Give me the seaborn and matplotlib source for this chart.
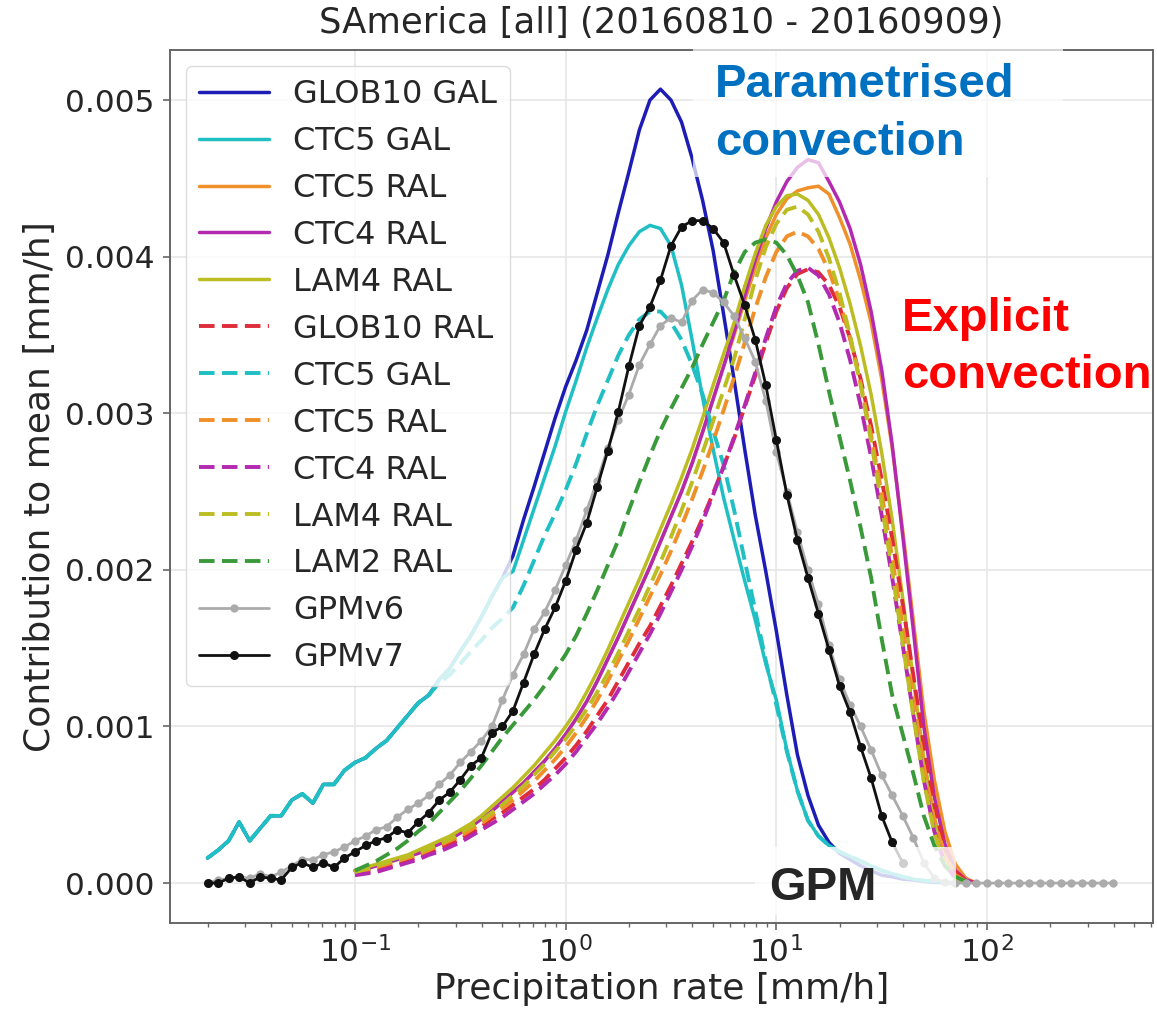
import matplotlib
matplotlib.use("Agg")
import matplotlib.pyplot as plt
from matplotlib.patches import Rectangle
import numpy as np
import pandas as pd
import seaborn as sns

# ---------------- data (contribution values in units of 1e-3 mm/h) ----------------
rate = [0.01995, 0.02239, 0.02512, 0.02818, 0.03162, 0.03548, 0.03981, 0.04467, 0.05012, 0.05623,
        0.06310, 0.07079, 0.07943, 0.08913, 0.1000, 0.1122, 0.1259, 0.1413, 0.1585, 0.1778,
        0.1995, 0.2239, 0.2512, 0.2818, 0.3162, 0.3548, 0.3981, 0.4467, 0.5012, 0.5623,
        0.6310, 0.7079, 0.7943, 0.8913, 1.000, 1.122, 1.259, 1.413, 1.585, 1.778,
        1.995, 2.239, 2.512, 2.818, 3.162, 3.548, 3.981, 4.467, 5.012, 5.623,
        6.310, 7.079, 7.943, 8.913, 10.00, 11.22, 12.59, 14.13, 15.85, 17.78,
        19.95, 22.39, 25.12, 28.18, 31.62, 35.48, 39.81, 44.67, 50.12, 56.23,
        63.10, 70.79, 79.43, 89.13, 100.0, 112.2, 125.9, 141.3, 158.5, 177.8,
        199.5, 223.9, 251.2, 281.8, 316.2, 354.8, 398.1]

# series starting at rate[0]
glob10_gal = [0.16, 0.21, 0.27, 0.39, 0.27, 0.35, 0.43, 0.43, 0.53, 0.57,
              0.51, 0.63, 0.63, 0.72, 0.77, 0.80, 0.86, 0.91, 0.99, 1.07,
              1.15, 1.20, 1.30, 1.37, 1.48, 1.58, 1.70, 1.83, 1.95,
              2.09, 2.32, 2.53, 2.75, 2.97, 3.17, 3.34, 3.53, 3.77, 4.01,
              4.28, 4.54, 4.81, 5.00, 5.07, 5.00, 4.86, 4.63, 4.36, 4.04,
              3.63, 3.21, 2.77, 2.35, 1.99, 1.61, 1.20, 0.82, 0.56, 0.37,
              0.26, 0.19, 0.15, 0.11, 0.08, 0.05, 0.04, 0.025, 0.02, 0.01,
              0.005, 0.002]
ctc5_gal = [0.16, 0.21, 0.27, 0.39, 0.27, 0.35, 0.43, 0.43, 0.53, 0.57,
            0.51, 0.63, 0.63, 0.72, 0.77, 0.80, 0.86, 0.91, 0.99, 1.07,
            1.15, 1.20, 1.30, 1.37, 1.48, 1.58, 1.70, 1.83, 1.95,
            1.99, 2.19, 2.39, 2.59, 2.79, 3.01, 3.21, 3.42, 3.61, 3.79,
            3.95, 4.07, 4.16, 4.20, 4.18, 4.07, 3.82, 3.47, 3.10, 2.77,
            2.46, 2.19, 1.93, 1.68, 1.40, 1.17, 0.85, 0.59, 0.40, 0.30,
            0.24, 0.20, 0.17, 0.14, 0.11, 0.08, 0.06, 0.04, 0.025, 0.015,
            0.01, 0.003, 0.001]
ctc5_gal_b = [0.16, 0.21, 0.27, 0.39, 0.27, 0.35, 0.43, 0.43, 0.53, 0.57,
              0.51, 0.63, 0.63, 0.72, 0.77, 0.80, 0.86, 0.91, 0.99, 1.07,
              1.15, 1.20,
              1.28, 1.33, 1.40, 1.48, 1.55, 1.63, 1.69, 1.76,
              1.90, 2.06, 2.22, 2.36, 2.51, 2.68, 2.87, 3.05, 3.21, 3.37,
              3.50, 3.60, 3.65, 3.65, 3.58, 3.47, 3.31, 3.12, 2.89, 2.67,
              2.38, 2.06, 1.74, 1.42, 1.14, 0.84, 0.59,
              0.40, 0.30, 0.24, 0.20, 0.17, 0.14, 0.11, 0.08, 0.06, 0.04,
              0.025, 0.015, 0.01, 0.003, 0.001]

# series starting at rate[14] (0.1 mm/h)
ctc5_ral = [0.08, 0.09, 0.11, 0.13, 0.15, 0.17, 0.19, 0.22, 0.25, 0.28,
            0.32, 0.36, 0.41, 0.46, 0.52, 0.58, 0.64, 0.71, 0.78, 0.86,
            0.95, 1.05, 1.16, 1.29, 1.43, 1.57, 1.72, 1.87, 2.02, 2.18,
            2.34, 2.50, 2.68, 2.88, 3.09, 3.30,
            3.50, 3.72, 3.93, 4.12, 4.27, 4.37, 4.42, 4.44, 4.45, 4.40,
            4.25, 4.08, 3.85, 3.58, 3.22, 2.78, 2.25, 1.68, 1.10, 0.66,
            0.33, 0.12, 0.03, 0.0]
ctc4_ral = [0.08, 0.09, 0.11, 0.13, 0.15, 0.17, 0.19, 0.22, 0.25, 0.28,
            0.32, 0.36, 0.41, 0.46, 0.52, 0.58, 0.64, 0.71, 0.78, 0.86,
            0.95, 1.05, 1.16, 1.29, 1.43, 1.57, 1.72, 1.87, 2.02, 2.18,
            2.34, 2.50, 2.68, 2.88, 3.09, 3.30,
            3.52, 3.75, 3.98, 4.18, 4.35, 4.48, 4.57, 4.62, 4.60, 4.48,
            4.35, 4.18, 3.95, 3.65, 3.28, 2.80, 2.22, 1.62, 1.00, 0.55,
            0.25, 0.08, 0.02, 0.0]
lam4_ral = [0.08, 0.10, 0.12, 0.14, 0.16, 0.18, 0.21, 0.24, 0.27, 0.30,
            0.34, 0.38, 0.43, 0.49, 0.55, 0.61, 0.68, 0.75, 0.83, 0.91,
            1.00, 1.10, 1.22, 1.35, 1.49, 1.64, 1.79, 1.94, 2.10, 2.26,
            2.42, 2.59, 2.77, 2.97, 3.18, 3.38,
            3.58, 3.81, 4.02, 4.20, 4.32, 4.39, 4.40, 4.36, 4.27, 4.12,
            3.93, 3.70, 3.43, 3.12, 2.75, 2.32, 1.82, 1.30, 0.80, 0.42,
            0.18, 0.06, 0.01]
glob10_ral_b = [0.06, 0.07, 0.08, 0.10, 0.12, 0.14, 0.17, 0.19, 0.22, 0.25,
                0.28, 0.32, 0.36, 0.41, 0.45, 0.50, 0.55, 0.60, 0.66, 0.73,
                0.80, 0.88, 0.97, 1.07, 1.17, 1.29, 1.41, 1.53, 1.64, 1.77,
                1.90, 2.04, 2.18, 2.33, 2.49, 2.66, 2.84, 3.04, 3.24, 3.45,
                3.65, 3.80, 3.89, 3.92, 3.90, 3.82, 3.68, 3.48, 3.22, 2.92,
                2.58, 2.20, 1.78, 1.33, 0.88, 0.50, 0.22, 0.07, 0.015, 0.0]
ctc5_ral_b = [0.07, 0.08, 0.10, 0.12, 0.14, 0.16, 0.18, 0.21, 0.24, 0.27,
              0.30, 0.34, 0.38, 0.43, 0.48, 0.53, 0.59, 0.65, 0.72, 0.79,
              0.87, 0.96, 1.06, 1.17, 1.29, 1.42, 1.55, 1.69, 1.83, 1.97,
              2.12, 2.28, 2.45, 2.63, 2.82, 3.02, 3.23, 3.45, 3.67, 3.87,
              4.03, 4.13, 4.16, 4.13, 4.05, 3.91, 3.72, 3.48, 3.19, 2.86,
              2.49, 2.08, 1.64, 1.18, 0.75, 0.40, 0.17, 0.05, 0.01, 0.0]
ctc4_ral_b = [0.05, 0.06, 0.07, 0.09, 0.11, 0.13, 0.15, 0.18, 0.20, 0.23,
              0.26, 0.30, 0.34, 0.38, 0.42, 0.47, 0.52, 0.57, 0.63, 0.69,
              0.76, 0.84, 0.93, 1.02, 1.12, 1.23, 1.35, 1.47, 1.59, 1.72,
              1.86, 2.00, 2.15, 2.31, 2.48, 2.66, 2.85, 3.05, 3.26, 3.48,
              3.68, 3.83, 3.91, 3.93, 3.88, 3.76, 3.58, 3.34, 3.05, 2.72,
              2.35, 1.95, 1.52, 1.08, 0.66, 0.33, 0.12, 0.03, 0.0]
lam4_ral_b = [0.07, 0.09, 0.11, 0.13, 0.15, 0.17, 0.19, 0.22, 0.25, 0.28,
              0.32, 0.36, 0.40, 0.45, 0.50, 0.56, 0.62, 0.69, 0.76, 0.84,
              0.92, 1.01, 1.11, 1.22, 1.34, 1.47, 1.61, 1.75, 1.90, 2.05,
              2.21, 2.38, 2.56, 2.75, 2.95, 3.15, 3.35, 3.60, 3.85, 4.06,
              4.21, 4.30, 4.32, 4.27, 4.16, 3.99, 3.77, 3.50, 3.18, 2.82,
              2.42, 1.99, 1.53, 1.07, 0.65, 0.32, 0.12, 0.03, 0.0]
lam2_ral_b = [0.08, 0.11, 0.14, 0.18, 0.22, 0.27, 0.33, 0.38, 0.45, 0.52,
              0.59, 0.67, 0.75, 0.84, 0.93, 1.01, 1.09, 1.17, 1.26, 1.36,
              1.46, 1.58, 1.72, 1.87, 2.03, 2.19, 2.38, 2.56, 2.73, 2.89,
              3.03, 3.16, 3.29, 3.44, 3.58, 3.72, 3.90, 4.03, 4.09, 4.11,
              4.09, 4.01, 3.88, 3.71, 3.44, 3.14, 2.85, 2.57, 2.27, 1.95,
              1.56, 1.20, 0.95, 0.70, 0.43, 0.24, 0.11, 0.04, 0.01]

# observations (start at rate[0])
gpmv6 = [0.00, 0.02, 0.03, 0.04, 0.03, 0.06, 0.04, 0.07, 0.11, 0.15,
         0.15, 0.18, 0.20, 0.23, 0.27, 0.30, 0.34, 0.36, 0.42, 0.47,
         0.51, 0.56, 0.63, 0.69, 0.77, 0.84, 0.91, 1.00, 1.17, 1.33,
         1.46, 1.62, 1.73, 1.87, 2.03, 2.19, 2.38, 2.57, 2.78, 2.96,
         3.12, 3.31, 3.44, 3.56, 3.61, 3.58, 3.72, 3.79, 3.77, 3.71,
         3.62, 3.48, 3.33, 3.08, 2.75, 2.50, 2.24, 2.00, 1.78, 1.52,
         1.30, 1.14, 1.00, 0.85, 0.69, 0.56, 0.43, 0.29, 0.13, 0.03,
         0.005, 0.0, 0.0, 0.0, 0.0, 0.0, 0.0, 0.0, 0.0, 0.0,
         0.0, 0.0, 0.0, 0.0, 0.0, 0.0, 0.0]
gpmv7 = [0.00, 0.00, 0.03, 0.04, 0.00, 0.04, 0.03, 0.02, 0.10, 0.13,
         0.10, 0.13, 0.10, 0.16, 0.20, 0.24, 0.27, 0.29, 0.34, 0.32,
         0.39, 0.45, 0.53, 0.58, 0.66, 0.75, 0.80, 0.96, 1.00, 1.10,
         1.28, 1.46, 1.62, 1.76, 1.93, 2.13, 2.30, 2.53, 2.76, 3.01,
         3.30, 3.56, 3.68, 3.85, 4.07, 4.19, 4.23, 4.23, 4.18, 4.09,
         3.88, 3.69, 3.47, 3.18, 2.83, 2.48, 2.19, 1.95, 1.72, 1.49,
         1.26, 1.09, 0.87, 0.67, 0.43, 0.26, 0.13]

labels = ["GLOB10 GAL", "CTC5 GAL", "CTC5 RAL", "CTC4 RAL", "LAM4 RAL",
          "GLOB10 RAL", "CTC5 GAL", "CTC5 RAL", "CTC4 RAL", "LAM4 RAL",
          "LAM2 RAL", "GPMv6", "GPMv7"]
values = [glob10_gal, ctc5_gal, ctc5_ral, ctc4_ral, lam4_ral,
          glob10_ral_b, ctc5_gal_b, ctc5_ral_b, ctc4_ral_b, lam4_ral_b,
          lam2_ral_b, gpmv6, gpmv7]
first_bin = [0, 0, 14, 14, 14, 14, 0, 14, 14, 14, 14, 0, 0]

# ---------------- styles ----------------
C_BLUE, C_CYAN, C_ORANGE = "#1d1db5", "#1fbfc4", "#f0902a"
C_MAG, C_OLIVE, C_RED, C_GREEN = "#b32ab0", "#bcbd22", "#de2c3a", "#3a9a3a"
DASH = (0, (4.0, 1.9))
styles = [
    dict(color=C_BLUE, ls="-", lw=2.5),
    dict(color=C_CYAN, ls="-", lw=2.5),
    dict(color=C_ORANGE, ls="-", lw=2.5),
    dict(color=C_MAG, ls="-", lw=2.5),
    dict(color=C_OLIVE, ls="-", lw=2.5),
    dict(color=C_RED, ls=DASH, lw=2.8),
    dict(color=C_CYAN, ls=DASH, lw=2.8),
    dict(color=C_ORANGE, ls=DASH, lw=2.8),
    dict(color=C_MAG, ls=DASH, lw=2.8),
    dict(color=C_OLIVE, ls=DASH, lw=2.8),
    dict(color=C_GREEN, ls=DASH, lw=2.8),
    dict(color="#ababab", ls="-", lw=2.0, marker="o", ms=6.0),
    dict(color="#111111", ls="-", lw=2.0, marker="o", ms=6.5),
]

rows = []
for i, (lab, vals, s0) in enumerate(zip(labels, values, first_bin)):
    for r, v in zip(rate[s0:s0 + len(vals)], vals):
        rows.append({"sid": i, "rate": r, "contrib": v * 1e-3})
df = pd.DataFrame(rows)

# ---------------- figure ----------------
sns.set_theme(style="whitegrid", rc={
    "axes.edgecolor": "#666666", "axes.linewidth": 1.4,
    "grid.color": "#e6e6e6", "grid.linewidth": 1.2,
    "xtick.bottom": True, "ytick.left": True,
    "xtick.color": "#666666", "ytick.color": "#666666",
    "xtick.labelcolor": "#262626", "ytick.labelcolor": "#262626",
    "xtick.major.size": 5, "xtick.minor.size": 3, "ytick.major.size": 5,
    "xtick.major.width": 1.2, "xtick.minor.width": 1.0, "ytick.major.width": 1.2,
    "xtick.major.pad": 4, "ytick.major.pad": 6,
})
plt.rcParams["font.family"] = ["DejaVu Sans"]

W, H = 1157, 1016
fig = plt.figure(figsize=(W / 100, H / 100), dpi=100)
ax = fig.add_axes([170 / W, 1 - 923 / H, (1153 - 170) / W, (923 - 50) / H])
ax.set_xscale("log")

for i, lab in enumerate(labels):
    st = styles[i]
    kw = dict(color=st["color"], linestyle=st["ls"], linewidth=st["lw"])
    if "marker" in st:
        kw.update(marker=st["marker"], ms=st["ms"], mec=st["color"], mew=0)
    sns.lineplot(data=df[df["sid"] == i], x="rate", y="contrib", ax=ax,
                 estimator=None, sort=False, label=lab, **kw)

ax.set_xlim(0.01324, 613.8)
ax.set_ylim(-0.000255, 0.00532)
ax.set_yticks([0.0, 0.001, 0.002, 0.003, 0.004, 0.005])
ax.set_yticklabels(["0.000", "0.001", "0.002", "0.003", "0.004", "0.005"])
ax.tick_params(axis="both", which="major", labelsize=22.5)
ax.set_xlabel("Precipitation rate [mm/h]", fontsize=26, color="#262626", labelpad=3)
ax.set_ylabel("Contribution to mean [mm/h]", fontsize=26, color="#262626", labelpad=6)
ax.set_title("SAmerica [all] (20160810 - 20160909)", fontsize=25.5, color="#262626", pad=12)
ax.grid(True, which="major")
ax.grid(False, which="minor")

handles, labs = ax.get_legend_handles_labels()
leg = ax.legend(handles, labs, loc="upper left", fontsize=23, labelspacing=0.5,
                handlelength=2.2, handletextpad=0.75, borderpad=0.4,
                borderaxespad=0.5, framealpha=0.8, edgecolor="#d4d4d4", fancybox=True)
for t in leg.get_texts():
    t.set_color("#262626")

# ---------------- overlaid annotation boxes and text ----------------
def fbox(x0, y0, x1, y1, alpha):
    fig.add_artist(Rectangle((x0 / W, 1 - y1 / H), (x1 - x0) / W, (y1 - y0) / H,
                             transform=fig.transFigure, facecolor="white",
                             edgecolor="none", alpha=alpha, zorder=5))

def ftext(x, y, s, color):
    fig.text(x / W, 1 - y / H, s, color=color, fontsize=34, fontweight="bold",
             family=["Liberation Sans", "DejaVu Sans"], ha="left", va="baseline", zorder=6)

fbox(693, 47, 1063, 177, 0.7)
fbox(755, 847, 956, 915, 0.8)
ftext(715, 97, "Parametrised", "#0070C0")
ftext(715, 155, "convection", "#0070C0")
ftext(902, 331, "Explicit", "#FF0000")
ftext(902, 388, "convection", "#FF0000")
ftext(769, 900, "GPM", "#262626")

fig.savefig("out.png", dpi=100)
